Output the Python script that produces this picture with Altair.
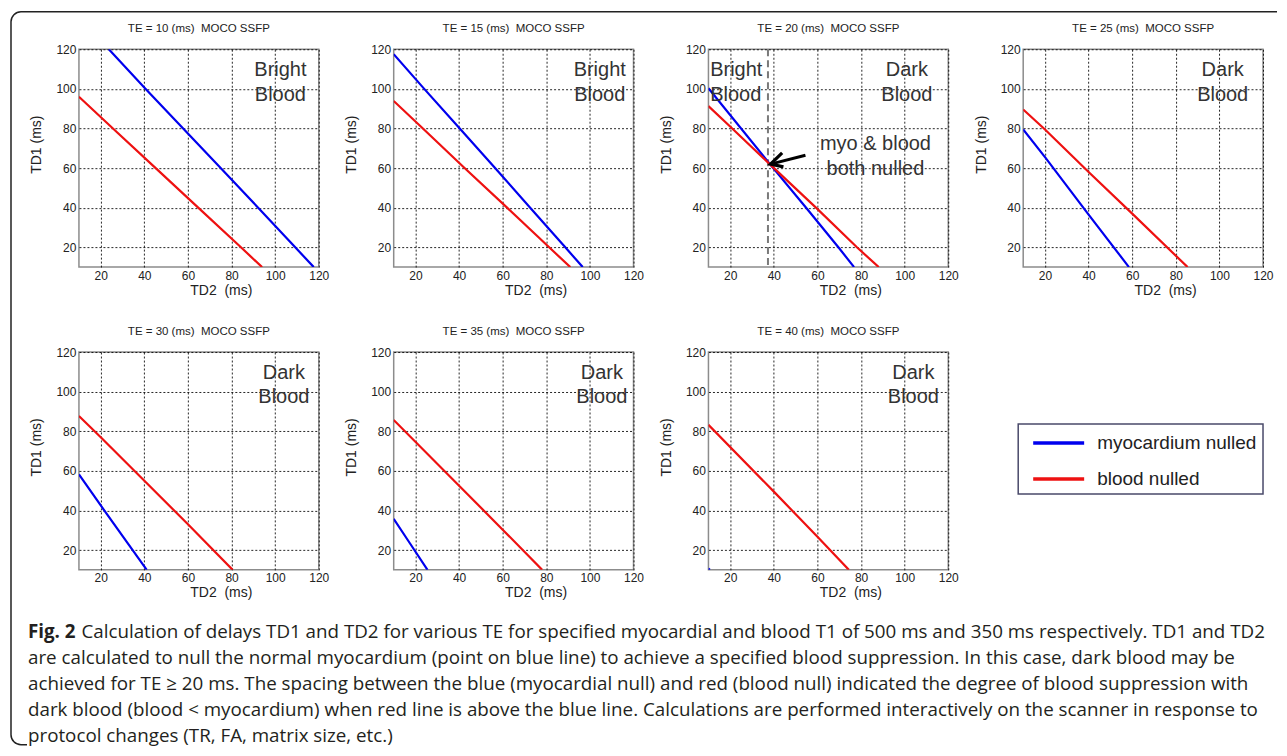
import altair as alt
import pandas as pd

FONT = "Liberation Sans"
CAP_FONT = "Open Sans"

TE_VALUES = [10, 15, 20, 25, 30, 35, 40]
SERIES = ["myocardium nulled", "blood nulled"]
COLORS = ["#0000ee", "#ee1111"]

# myocardium-nulled curves (TD2, TD1)
MYO_TD2 = {10: [23.7, 40.5, 57.8, 75, 92.2, 109.2, 117.7],
           15: [10, 24, 40.3, 56.5, 72.6, 88.7, 96.7],
           20: [10, 38.2, 54.8, 69.6, 76.8],
           25: [10, 20, 40, 58.5],
           30: [10, 20, 41.1],
           35: [10, 17.5, 25.5],
           40: [10, 10.6]}
MYO_TD1 = {10: [120, 100, 80, 60, 40, 20, 10],
           15: [117.5, 100, 80, 60, 40, 20, 10],
           20: [100.3, 62, 40, 20, 10],
           25: [79.5, 65.5, 36.5, 10],
           30: [58.2, 42.5, 10],
           35: [35.8, 23.3, 10],
           40: [10.7, 10]}
# blood-nulled curves
BLOOD_TD2 = {10: [10, 25.6, 45.2, 64.7, 84.3, 94],
             15: [10, 23.4, 42.5, 62, 81.3, 91],
             20: [10, 20.9, 38.1, 59.8, 78.1, 88.1],
             25: [10, 20, 40, 60, 85.4],
             30: [10, 20, 40, 60, 80.5],
             35: [10, 40, 60, 78.1],
             40: [10, 40, 60, 74.4]}
BLOOD_TD1 = {10: [96, 80, 60, 40, 20, 10],
             15: [93.9, 80, 60, 40, 20, 10],
             20: [91.3, 80, 62, 39.5, 20, 10],
             25: [89.6, 79.5, 58, 37, 10],
             30: [87.7, 77, 55, 33, 10],
             35: [85.7, 52.5, 30.3, 10],
             40: [83.2, 49.5, 26.7, 10]}

REGION_WORD = {10: "Bright", 15: "Bright", 20: "Dark", 25: "Dark", 30: "Dark", 35: "Dark", 40: "Dark"}
REGION_X = {10: 102.4, 15: 104.5, 20: 101, 25: 101.5, 30: 104, 35: 105.5, 40: 104}
REGION_Y = [106.3, 94.1]

# TE = 20 annotation
NULL_TD2 = [37.3]
ARROW_TD2 = [38.5, 54.5]
ARROW_TD1 = [62, 66.5]
HEAD_TD2 = [43.8, 38.5, 44.4]
HEAD_TD1 = [67.7, 62, 60.6]
NOTE_TEXT = ["myo & blood", "both nulled"]
NOTE_TD2 = [86.6, 86.6]
NOTE_TD1 = [69.0, 56.4]
LEFT_TEXT = ["Bright", "Blood"]
LEFT_TD2 = [10.8, 10.8]

TICKS = [20, 40, 60, 80, 100, 120]

CAPTION_BOLD = "Fig. 2"
CAPTION_LINES = [
    "Calculation of delays TD1 and TD2 for various TE for specified myocardial and blood T1 of 500 ms and 350 ms respectively. TD1 and TD2",
    "are calculated to null the normal myocardium (point on blue line) to achieve a specified blood suppression. In this case, dark blood may be",
    "achieved for TE \u2265 20 ms. The spacing between the blue (myocardial null) and red (blood null) indicated the degree of blood suppression with",
    "dark blood (blood < myocardium) when red line is above the blue line. Calculations are performed interactively on the scanner in response to",
    "protocol changes (TR, FA, matrix size, etc.)",
]

PW, PH = 240, 218

xs = alt.Scale(domain=[10, 120], nice=False, zero=False)
ys = alt.Scale(domain=[10, 120], nice=False, zero=False)
cs = alt.Scale(domain=SERIES, range=COLORS)

common_axis = dict(values=TICKS, grid=True, gridDash=[2, 2], gridColor="#000000",
                   gridOpacity=0.85, gridWidth=1, domain=False, ticks=False,
                   labelFont=FONT, labelFontSize=12, labelColor="#222222",
                   labelFlush=False, titleFont=FONT, titleFontSize=14,
                   titleFontWeight="normal", titleColor="#222222")
xaxis = alt.Axis(title="TD2\u00a0 (ms)", labelPadding=3, titlePadding=2, titleX=142, **common_axis)
yaxis = alt.Axis(title="TD1 (ms)", labelPadding=3, titlePadding=12, titleY=95, **common_axis)


def panel(te):
    rows = []
    for a, b in zip(MYO_TD2[te], MYO_TD1[te]):
        rows.append({"series": SERIES[0], "td2": a, "td1": b})
    for a, b in zip(BLOOD_TD2[te], BLOOD_TD1[te]):
        rows.append({"series": SERIES[1], "td2": a, "td1": b})
    df = pd.DataFrame(rows)

    layers = []
    if te == 20:
        layers.append(
            alt.Chart(pd.DataFrame({"td2": NULL_TD2}))
            .mark_rule(color="#7a7a7a", strokeDash=[7, 4], strokeWidth=2)
            .encode(x=alt.X("td2:Q", scale=xs))
        )
    lines = alt.Chart(df).mark_line(strokeWidth=2.2, clip=True).encode(
        x=alt.X("td2:Q", scale=xs, axis=xaxis),
        y=alt.Y("td1:Q", scale=ys, axis=yaxis),
        color=alt.Color("series:N", scale=cs, legend=None),
    )
    layers.append(lines)

    lab = pd.DataFrame({"td2": [REGION_X[te]] * 2, "td1": REGION_Y,
                        "text": [REGION_WORD[te], "Blood"]})
    layers.append(
        alt.Chart(lab).mark_text(font=FONT, fontSize=20, color="#333333",
                                 align="center", baseline="alphabetic")
        .encode(x=alt.X("td2:Q", scale=xs), y=alt.Y("td1:Q", scale=ys), text="text:N")
    )
    if te == 20:
        left = pd.DataFrame({"td2": LEFT_TD2, "td1": REGION_Y, "text": LEFT_TEXT})
        layers.append(
            alt.Chart(left).mark_text(font=FONT, fontSize=20, color="#333333",
                                      align="left", baseline="alphabetic")
            .encode(x=alt.X("td2:Q", scale=xs), y=alt.Y("td1:Q", scale=ys), text="text:N")
        )
        note = pd.DataFrame({"td2": NOTE_TD2, "td1": NOTE_TD1, "text": NOTE_TEXT})
        layers.append(
            alt.Chart(note).mark_text(font=FONT, fontSize=20, color="#333333",
                                      align="center", baseline="alphabetic")
            .encode(x=alt.X("td2:Q", scale=xs), y=alt.Y("td1:Q", scale=ys), text="text:N")
        )
        shaft = pd.DataFrame({"td2": ARROW_TD2, "td1": ARROW_TD1, "idx": [0, 1]})
        layers.append(
            alt.Chart(shaft).mark_line(color="#000000", strokeWidth=3)
            .encode(x=alt.X("td2:Q", scale=xs), y=alt.Y("td1:Q", scale=ys), order="idx:Q")
        )
        head = pd.DataFrame({"td2": HEAD_TD2, "td1": HEAD_TD1, "idx": [0, 1, 2]})
        layers.append(
            alt.Chart(head).mark_line(color="#000000", strokeWidth=3.2, strokeJoin="miter")
            .encode(x=alt.X("td2:Q", scale=xs), y=alt.Y("td1:Q", scale=ys), order="idx:Q")
        )

    title = alt.TitleParams(f"TE = {te} (ms)\u00a0 MOCO SSFP", font=FONT, fontSize=11.5,
                            fontWeight="normal", color="#222222", offset=9, anchor="middle")
    return alt.layer(*layers).properties(width=PW, height=PH, title=title)


panels = [panel(te) for te in TE_VALUES]

# legend cell
leg_df = pd.DataFrame({"series": SERIES})
leg_y = alt.Y("series:N", scale=alt.Scale(type="point", domain=SERIES, range=[91, 127], padding=0), axis=None)
legend_box = alt.Chart(pd.DataFrame({"a": [0]})).mark_rect(
    fill="white", stroke="#4a4a6a", strokeWidth=1.5
).encode(x=alt.value(-5), x2=alt.value(240), y=alt.value(72), y2=alt.value(142))
legend_lines = alt.Chart(leg_df).mark_rule(strokeWidth=3.5).encode(
    x=alt.value(10), x2=alt.value(61), y=leg_y,
    color=alt.Color("series:N", scale=cs, legend=None),
)
legend_text = alt.Chart(leg_df).mark_text(
    font=FONT, fontSize=19, color="#222222", align="left", baseline="middle"
).encode(x=alt.value(74), y=leg_y, text="series:N")
legend_cell = alt.layer(legend_box, legend_lines, legend_text).properties(
    width=PW, height=PH, view=alt.ViewBackground(stroke="transparent")
)

# caption cell (origin at first column, third row)
one = pd.DataFrame({"a": [0]})
Y_TOP, Y_BOT = -643.5, 90
W_BOX = 1199 + 68
H_BOX = Y_BOT - Y_TOP
border = alt.Chart(one).mark_rect(
    fill="transparent", stroke="#222222", strokeWidth=1.5,
    cornerRadiusTopLeft=10, cornerRadiusBottomLeft=10,
    strokeDash=[W_BOX - 10, H_BOX + W_BOX - 16, 5000, 0],
).encode(x=alt.value(-68), x2=alt.value(1199), y=alt.value(Y_TOP), y2=alt.value(Y_BOT))

CAP_SIZE = 18.8
LINE_PITCH = 26
FIRST_Y = -23
cap_layers = [border]
cap_layers.append(
    alt.Chart(one).mark_text(font=CAP_FONT, fontSize=CAP_SIZE, fontWeight="bold", color="#231f20",
                             align="left", baseline="middle", text=CAPTION_BOLD)
    .encode(x=alt.value(-51), y=alt.value(FIRST_Y))
)
for i, line in enumerate(CAPTION_LINES):
    cap_layers.append(
        alt.Chart(one).mark_text(font=CAP_FONT, fontSize=CAP_SIZE, color="#231f20",
                                 align="left", baseline="middle", text=line)
        .encode(x=alt.value(2.5 if i == 0 else -51), y=alt.value(FIRST_Y + i * LINE_PITCH))
    )
caption_cell = alt.layer(*cap_layers).properties(
    width=PW, height=1, view=alt.ViewBackground(stroke="transparent")
)

chart = alt.concat(
    *panels, legend_cell, caption_cell,
    columns=4, spacing=alt.RowColnumber(row=85, column=75), bounds="flush",
).properties(
    padding={"left": 1, "top": 2, "right": 0, "bottom": 0}
).configure_view(
    stroke="#8c8c8c", strokeWidth=1.5
)

chart.save("out.html", embed_options={"renderer": "svg", "actions": False})
